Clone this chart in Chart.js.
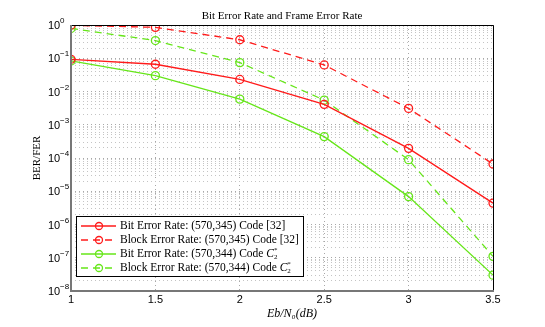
<!DOCTYPE html>
<html>
<head>
<meta charset="utf-8">
<script src="https://cdn.jsdelivr.net/npm/chart.js@4.4.1/dist/chart.umd.min.js"></script>
<style>
  html, body { margin: 0; background: #fff; }
  #wrap { width: 545px; height: 327px; }
</style>
</head>
<body>
<div id="wrap"><canvas id="chart"></canvas></div>
<script>
const EBNO    = [1, 1.5, 2, 2.5, 3, 3.5];
const BER_32  = [0.093, 0.066, 0.023, 0.0041, 1.95e-4, 4.4e-6];
const FER_32  = [0.98, 0.85, 0.36, 0.063, 3.1e-3, 6.6e-5];
const BER_C2  = [0.083, 0.030, 5.9e-3, 4.4e-4, 6.9e-6, 3.0e-8];
const FER_C2  = [0.79, 0.34, 0.074, 5.5e-3, 8.9e-5, 1.1e-7];
const DECADES = [-8, -7, -6, -5, -4, -3, -2, -1, 0];

const LEGEND_TEXT = [
    'Bit Error Rate: (570,345) Code [32]',
    'Block Error Rate: (570,345) Code [32]',
    'Bit Error Rate: (570,344) Code ',
    'Block Error Rate: (570,344) Code ',
];
const LEGEND_SYM = ['', '', 'C', 'C'];

const RED   = '#ff1a1a';
const GREEN = '#66e619';
const SERIF = '"Liberation Serif", "DejaVu Serif", serif';
const SANS  = '"Liberation Sans", Arial, sans-serif';

const toPts = (ys) => EBNO.map((x, i) => ({ x, y: ys[i] }));

const mkSet = (label, ys, color, dashed) => ({
    label,
    data: toPts(ys),
    borderColor: color,
    borderWidth: 1.3,
    borderDash: dashed ? [7, 5] : [],
    pointStyle: 'circle',
    pointRadius: 4,
    pointBorderWidth: 1.3,
    pointBorderColor: color,
    pointBackgroundColor: 'rgba(0,0,0,0)',
    tension: 0,
    fill: false,
});

const datasets = [
    mkSet(LEGEND_TEXT[0], BER_32, RED, false),
    mkSet(LEGEND_TEXT[1], FER_32, RED, true),
    mkSet(LEGEND_TEXT[2], BER_C2, GREEN, false),
    mkSet(LEGEND_TEXT[3], FER_C2, GREEN, true),
];

// log ticks at 1..9 x 10^k so every minor grid line shows up
const logTicks = [];
DECADES.forEach(k => {
    if (k === 0) { logTicks.push({ value: 1, major: true }); return; }
    for (let m = 1; m <= 9; m++) logTicks.push({ value: m * Math.pow(10, k), major: m === 1 });
});

/* === decorations: title, box, labels, legend === */
const decor = {
    id: 'decor',
    afterDraw(c) {
        const { ctx, chartArea: a, scales } = c;
        ctx.save();

        // box
        ctx.strokeStyle = '#000'; ctx.lineWidth = 1;
        ctx.beginPath();
        ctx.moveTo(a.left, a.top + 0.5); ctx.lineTo(a.right + 0.5, a.top + 0.5); ctx.lineTo(a.right + 0.5, a.bottom);
        ctx.stroke();
        ctx.strokeStyle = '#777'; ctx.lineWidth = 2;
        ctx.beginPath();
        ctx.moveTo(a.left, a.top); ctx.lineTo(a.left, a.bottom); ctx.lineTo(a.right + 1, a.bottom);
        ctx.stroke();

        // title
        ctx.fillStyle = '#000';
        ctx.font = `11px ${SERIF}`;
        ctx.textAlign = 'center'; ctx.textBaseline = 'alphabetic';
        ctx.fillText('Bit Error Rate and Frame Error Rate', (a.left + a.right) / 2, 19);

        // y tick labels 10^k
        DECADES.forEach(k => {
            const y = scales.y.getPixelForValue(Math.pow(10, k));
            ctx.textAlign = 'left'; ctx.textBaseline = 'middle';
            ctx.font = `11px ${SANS}`;
            ctx.fillText('10', 48, y + 1);
            ctx.font = `8px ${SANS}`;
            ctx.fillText(k === 0 ? '0' : '\u2212' + (-k), 60, y - 4);
        });

        // x tick labels
        ctx.font = `11px ${SANS}`;
        ctx.textAlign = 'center'; ctx.textBaseline = 'middle';
        EBNO.forEach(v => ctx.fillText(String(v), scales.x.getPixelForValue(v), a.bottom + 9));

        // axis titles
        ctx.font = `italic 12px ${SERIF}`;
        ctx.textAlign = 'center'; ctx.textBaseline = 'alphabetic';
        ctx.fillText('Eb/N\u2080(dB)', (a.left + a.right) / 2 + 10, 317);

        ctx.save();
        ctx.translate(37, (a.top + a.bottom) / 2);
        ctx.rotate(-Math.PI / 2);
        ctx.font = `11px ${SERIF}`;
        ctx.textBaseline = 'middle';
        ctx.fillText('BER/FER', 0, 0);
        ctx.restore();

        // legend inside plot
        const lx = 76, ly = 216, lw = 227, lh = 60;
        ctx.fillStyle = '#fff';
        ctx.fillRect(lx, ly, lw, lh);
        ctx.strokeStyle = '#000'; ctx.lineWidth = 1;
        ctx.strokeRect(lx + 0.5, ly + 0.5, lw, lh);
        datasets.forEach((ds, i) => {
            const y = ly + 10 + i * 14;
            ctx.strokeStyle = ds.borderColor; ctx.lineWidth = 1.3;
            ctx.setLineDash(ds.borderDash);
            ctx.beginPath(); ctx.moveTo(81, y); ctx.lineTo(116, y); ctx.stroke();
            ctx.setLineDash([]);
            ctx.beginPath(); ctx.arc(99, y, 3.5, 0, Math.PI * 2); ctx.stroke();

            ctx.fillStyle = '#000';
            ctx.font = `11.5px ${SERIF}`;
            ctx.textAlign = 'left'; ctx.textBaseline = 'middle';
            ctx.fillText(LEGEND_TEXT[i], 120, y);
            if (LEGEND_SYM[i]) {
                const w = ctx.measureText(LEGEND_TEXT[i]).width;
                ctx.font = `italic 11.5px ${SERIF}`;
                ctx.fillText(LEGEND_SYM[i], 120 + w, y);
                const w2 = ctx.measureText(LEGEND_SYM[i]).width;
                ctx.font = `7px ${SERIF}`;
                ctx.fillText('2', 120 + w + w2, y + 3);
                ctx.fillText('*', 120 + w + w2, y - 4);
            }
        });

        ctx.restore();
    }
};

new Chart(document.getElementById('chart'), {
    type: 'line',
    data: { datasets },
    options: {
        responsive: true,
        maintainAspectRatio: false,
        animation: false,
        layout: { padding: { top: 25, right: 52, left: 0, bottom: 0 } },
        plugins: { legend: { display: false }, title: { display: false }, tooltip: { enabled: false } },
        scales: {
            x: {
                type: 'linear', min: 1, max: 3.5,
                ticks: { stepSize: 0.5, display: false },
                grid: { color: '#a8a8a8', drawTicks: false, lineWidth: 1 },
                border: { display: false, dash: [1, 3] },
                afterFit: s => { s.height = 36; },
            },
            y: {
                type: 'logarithmic', min: 1e-8, max: 1,
                afterBuildTicks: s => { s.ticks = logTicks.map(t => ({ ...t })); },
                ticks: { display: false, autoSkip: false },
                grid: { color: ctx => ctx.tick && ctx.tick.major ? '#a8a8a8' : '#c4c4c4', drawTicks: false, lineWidth: 1 },
                border: { display: false, dash: [1, 3] },
                afterFit: s => { s.width = 71; },
            },
        },
    },
    plugins: [decor],
});
</script>
</body>
</html>
